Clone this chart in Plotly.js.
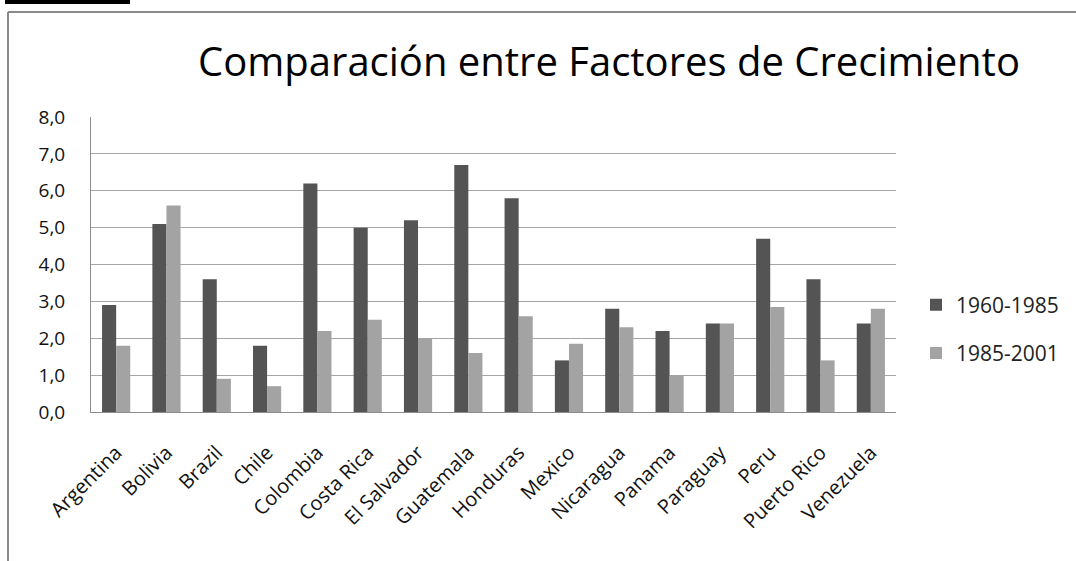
<!DOCTYPE html>
<html>
<head>
<meta charset="utf-8">
<script src="https://cdn.plot.ly/plotly-3.0.1.min.js"></script>
<style>html,body{margin:0;padding:0;background:#fff;}#chart{width:1076px;height:561px;}</style>
</head>
<body>
<div id="chart"></div>
<script>
const countries = ["Argentina","Bolivia","Brazil","Chile","Colombia","Costa Rica","El Salvador","Guatemala","Honduras","Mexico","Nicaragua","Panama","Paraguay","Peru","Puerto Rico","Venezuela"];
const series1960_1985 = [2.9,5.1,3.6,1.8,6.2,5.0,5.2,6.7,5.8,1.4,2.8,2.2,2.4,4.7,3.6,2.4];
const series1985_2001 = [1.8,5.6,0.9,0.7,2.2,2.5,2.0,1.6,2.6,1.85,2.3,1.0,2.4,2.85,1.4,2.8];
const seriesNames = ["1960-1985","1985-2001"];
const chartTitle = "Comparación entre Factores de Crecimiento";

const font = "'Open Sans', 'Noto Sans', sans-serif";

const traces = [
  {type:'bar', name:seriesNames[0], x:countries, y:series1960_1985, legendgroup:'a',
   marker:{color:'#545454', line:{width:0}}},
  {type:'bar', name:seriesNames[1], x:countries, y:series1985_2001, legendgroup:'b',
   marker:{color:'#a3a3a3', line:{width:0}}}
];

// plot area: x 91..896, y 117..412
const L=91, R=896, T=117, B=412;
const px = v => (v - L)/(R - L);
const py = v => (B - v)/(B - T);

const layout = {
  width:1076, height:561,
  margin:{l:L, r:1076-R, t:T, b:561-B, pad:0},
  paper_bgcolor:'#ffffff', plot_bgcolor:'#ffffff',
  separators:',.',
  font:{family:font, color:'#222', size:18},
  title:{text:chartTitle, font:{family:font, size:40, color:'#000'},
         xref:'paper', x:px(609), xanchor:'center', yref:'container', y:1-62/561, yanchor:'middle'},
  barmode:'group', bargap:0.44, bargroupgap:0,
  showlegend:true,
  legend:{x:px(916), xanchor:'left', y:py(329), yanchor:'middle', font:{size:21, color:'#222', family:font},
          traceorder:'grouped', tracegroupgap:18, itemwidth:30, bgcolor:'rgba(0,0,0,0)'},
  xaxis:{type:'category', tickangle:-45, showline:true, linecolor:'#8c8c8c', linewidth:1,
         ticks:'', showgrid:false, tickfont:{size:20, color:'#111', family:font}, automargin:false,
         ticklabelstandoff:20},
  yaxis:{range:[0,8], dtick:1, tickformat:'.1f', showline:true, linecolor:'#8c8c8c', linewidth:1,
         showgrid:true, gridcolor:'#a6a6a6', gridwidth:1, ticks:'', ticklabelstandoff:21,
         zeroline:false, tickfont:{size:19, color:'#111', family:font}, automargin:false},
  shapes:[
    {type:'line', xref:'paper', yref:'paper', x0:px(8), x1:px(8), y0:py(12), y1:py(561), line:{color:'#8a8a8a', width:2}},
    {type:'line', xref:'paper', yref:'paper', x0:px(8), x1:px(1076), y0:py(12), y1:py(12), line:{color:'#8a8a8a', width:2}},
    {type:'rect', xref:'paper', yref:'paper', x0:px(5), x1:px(130), y0:py(0), y1:py(4), line:{width:0}, fillcolor:'#000'}
  ]
};

Plotly.newPlot('chart', traces, layout, {staticPlot:true, displayModeBar:false});
</script>
</body>
</html>
